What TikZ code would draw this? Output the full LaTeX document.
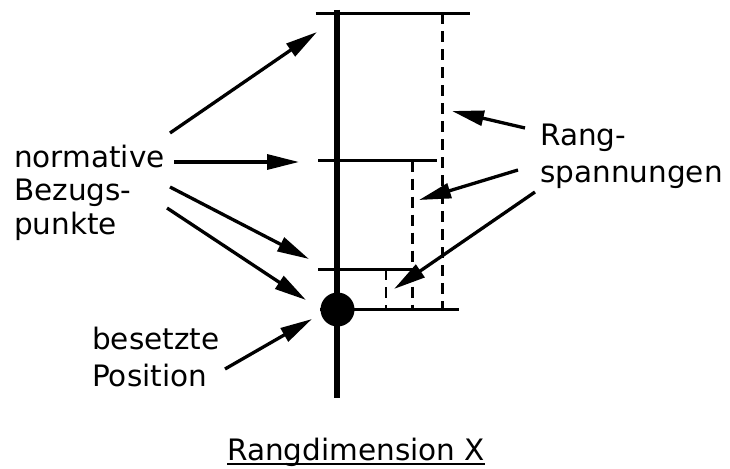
\documentclass[tikz,border=0pt]{standalone}
\usepackage{fontspec}
\setmainfont{DejaVu Sans}
\usetikzlibrary{arrows.meta}
\begin{document}
\begin{tikzpicture}[x=1pt,y=-1pt,
  lbl/.style={inner sep=0pt, anchor=base west, font=\fontsize{29.5}{34}\selectfont},
  axis/.style={line width=6pt},
  tick/.style={line width=2.7pt},
  span/.style={line width=2.5pt, dash pattern=on 11pt off 7pt},
  ptr/.style={line width=3.3pt, -{Triangle[length=32pt,width=15pt]}},
]
\useasboundingbox (0,0) rectangle (730,468);
% axis and reference levels
\coordinate (axtop) at (336.7,10);
\coordinate (axbot) at (336.7,398);
\draw[axis] (axtop) -- (axbot);
\coordinate (l1a) at (315.7,13.3); \coordinate (l1b) at (470,13.3);
\coordinate (l2a) at (318,160.7);  \coordinate (l2b) at (437,160.7);
\coordinate (l3a) at (318,269.3);  \coordinate (l3b) at (415,269.3);
\coordinate (l4a) at (320,309.5);  \coordinate (l4b) at (458.5,309.5);
\draw[tick] (l1a) -- (l1b);
\draw[tick] (l2a) -- (l2b);
\draw[tick] (l3a) -- (l3b);
\draw[tick] (l4a) -- (l4b);
% spans
\coordinate (s1a) at (442.3,13.3);  \coordinate (s1b) at (442.3,309.5);
\coordinate (s2a) at (412.7,160.7); \coordinate (s2b) at (412.7,309.5);
\coordinate (s3a) at (386,269.3);   \coordinate (s3b) at (386,309.5);
\draw[span] (s1a) -- (s1b);
\draw[span] (s2a) -- (s2b);
\draw[span] (s3a) -- (s3b);
% occupied position
\fill (337.5,309.5) circle[radius=17];
% labels
\node[lbl] (nb) at (14,167) {\vtop{\baselineskip=33.8pt\hbox{normative}\hbox{Bezugs-}\hbox{punkte}}};
\node[lbl] (bp) at (92,349) {\vtop{\baselineskip=37.5pt\hbox{besetzte}\hbox{Position}}};
\node[lbl] (rs) at (540,145) {\vtop{\baselineskip=37pt\hbox{Rang-}\hbox{spannungen}}};
\node[lbl] (title) at (227,460) {Rangdimension X};
\draw[line width=1.5pt] ([yshift=-4pt]title.base west) -- ([yshift=-4pt]title.base east);
% arrows
\coordinate (n1) at (170,133); \coordinate (t1) at (317,32);
\coordinate (n2) at (174,162); \coordinate (t2) at (299,162);
\coordinate (n3) at (170,187); \coordinate (t3) at (309,259);
\coordinate (n4) at (167,208); \coordinate (t4) at (306,300);
\coordinate (b1) at (225,369); \coordinate (t5) at (312,319);
\coordinate (r1) at (525,128); \coordinate (u1) at (452,111);
\coordinate (r2) at (518,170); \coordinate (u2) at (419,200);
\coordinate (r3) at (535,192); \coordinate (u3) at (394,289);
\draw[ptr] (n1) -- (t1);
\draw[ptr] (n2) -- (t2);
\draw[ptr] (n3) -- (t3);
\draw[ptr] (n4) -- (t4);
\draw[ptr] (b1) -- (t5);
\draw[ptr] (r1) -- (u1);
\draw[ptr] (r2) -- (u2);
\draw[ptr] (r3) -- (u3);
\end{tikzpicture}
\end{document}
